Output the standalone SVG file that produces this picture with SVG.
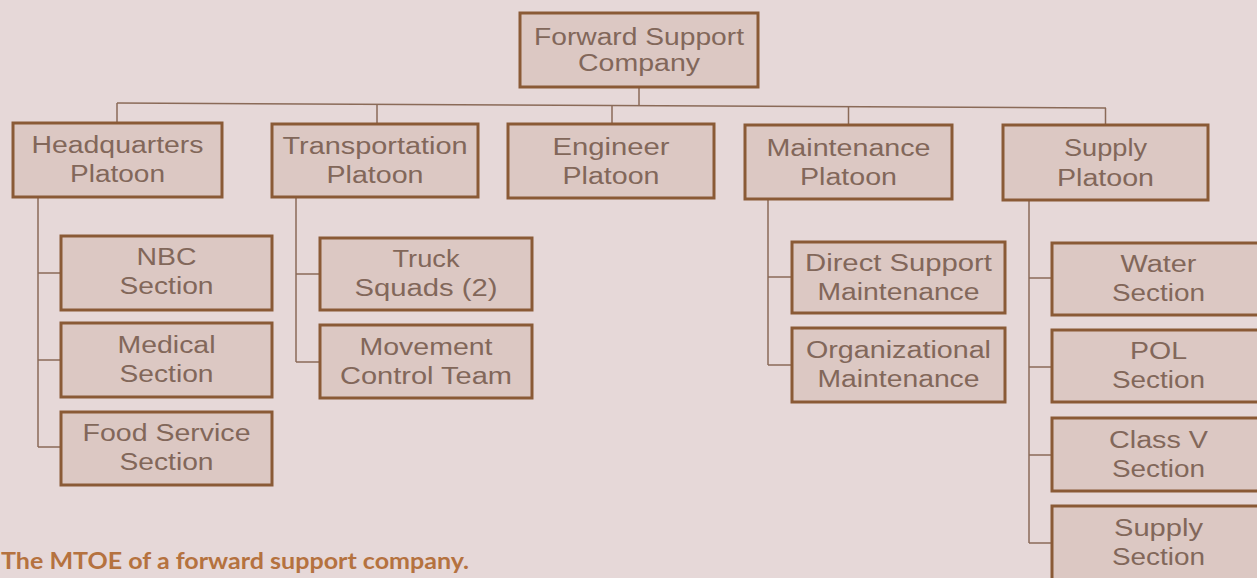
<svg xmlns="http://www.w3.org/2000/svg" width="1257" height="578" viewBox="0 0 1257 578">
<style>
.bx{fill:#dcc8c3;stroke:#8a5a36;stroke-width:3}
.t{font-family:"Liberation Sans",Arial,sans-serif;font-size:23px;fill:#82675a;text-anchor:middle}
.c{fill:none;stroke:#8a6a58;stroke-width:1.5}
.cap{font-family:Lato,"Open Sans",sans-serif;font-weight:bold;font-size:23.5px;fill:#b5723f}
</style>
<rect width="1257" height="578" fill="#e6d8d8"/>
<g id="connectors" class="c">
<path d="M639,87 V105.5"/>
<path d="M117,103 L1106,108"/>
<path d="M117,103 V123 M377,104.3 V124 M612,105.5 V124 M848.5,106.7 V125 M1105.5,108 V125"/>
<path d="M38,197 V447 M38,273 H61 M38,360 H61 M38,447 H61"/>
<path d="M296,197 V362 M296,274 H320 M296,362 H320"/>
<path d="M768,199 V365 M768,277 H792 M768,365 H792"/>
<path d="M1029,200 V543 M1029,278 H1052 M1029,367 H1052 M1029,455 H1052 M1029,543 H1052"/>
</g>
<g id="fsc"><rect class="bx" x="520" y="13" width="238" height="74"/><text class="t" x="639" y="45" textLength="210" lengthAdjust="spacingAndGlyphs">Forward Support</text><text class="t" x="639" y="71" textLength="122" lengthAdjust="spacingAndGlyphs">Company</text></g>
<g id="hq"><rect class="bx" x="13" y="123" width="209" height="74"/><text class="t" x="117.5" y="153" textLength="172" lengthAdjust="spacingAndGlyphs">Headquarters</text><text class="t" x="117.5" y="182" textLength="95" lengthAdjust="spacingAndGlyphs">Platoon</text></g>
<g id="trans"><rect class="bx" x="272" y="124" width="206" height="73"/><text class="t" x="375" y="154" textLength="185" lengthAdjust="spacingAndGlyphs">Transportation</text><text class="t" x="375" y="183" textLength="97" lengthAdjust="spacingAndGlyphs">Platoon</text></g>
<g id="eng"><rect class="bx" x="508" y="124" width="206" height="74"/><text class="t" x="611" y="155" textLength="117" lengthAdjust="spacingAndGlyphs">Engineer</text><text class="t" x="611" y="184" textLength="97" lengthAdjust="spacingAndGlyphs">Platoon</text></g>
<g id="maint"><rect class="bx" x="745" y="125" width="207" height="74"/><text class="t" x="848.5" y="156" textLength="164" lengthAdjust="spacingAndGlyphs">Maintenance</text><text class="t" x="848.5" y="185" textLength="97" lengthAdjust="spacingAndGlyphs">Platoon</text></g>
<g id="supply"><rect class="bx" x="1003" y="125" width="205" height="75"/><text class="t" x="1105.5" y="156" textLength="83" lengthAdjust="spacingAndGlyphs">Supply</text><text class="t" x="1105.5" y="186" textLength="97" lengthAdjust="spacingAndGlyphs">Platoon</text></g>
<g id="nbc"><rect class="bx" x="61" y="236" width="211" height="74"/><text class="t" x="166.5" y="265" textLength="60" lengthAdjust="spacingAndGlyphs">NBC</text><text class="t" x="166.5" y="294" textLength="94" lengthAdjust="spacingAndGlyphs">Section</text></g>
<g id="medical"><rect class="bx" x="61" y="323" width="211" height="74"/><text class="t" x="166.5" y="353" textLength="98" lengthAdjust="spacingAndGlyphs">Medical</text><text class="t" x="166.5" y="382" textLength="94" lengthAdjust="spacingAndGlyphs">Section</text></g>
<g id="food"><rect class="bx" x="61" y="412" width="211" height="73"/><text class="t" x="166.5" y="441" textLength="168" lengthAdjust="spacingAndGlyphs">Food Service</text><text class="t" x="166.5" y="470" textLength="94" lengthAdjust="spacingAndGlyphs">Section</text></g>
<g id="truck"><rect class="bx" x="320" y="238" width="212" height="72"/><text class="t" x="426" y="267" textLength="67" lengthAdjust="spacingAndGlyphs">Truck</text><text class="t" x="426" y="296" textLength="143" lengthAdjust="spacingAndGlyphs">Squads (2)</text></g>
<g id="movement"><rect class="bx" x="320" y="325" width="212" height="73"/><text class="t" x="426" y="355" textLength="133" lengthAdjust="spacingAndGlyphs">Movement</text><text class="t" x="426" y="384" textLength="172" lengthAdjust="spacingAndGlyphs">Control Team</text></g>
<g id="ds"><rect class="bx" x="792" y="242" width="213" height="71"/><text class="t" x="898.5" y="271" textLength="187" lengthAdjust="spacingAndGlyphs">Direct Support</text><text class="t" x="898.5" y="300" textLength="162" lengthAdjust="spacingAndGlyphs">Maintenance</text></g>
<g id="org"><rect class="bx" x="792" y="328" width="213" height="74"/><text class="t" x="898.5" y="358" textLength="185" lengthAdjust="spacingAndGlyphs">Organizational</text><text class="t" x="898.5" y="387" textLength="162" lengthAdjust="spacingAndGlyphs">Maintenance</text></g>
<g id="water"><rect class="bx" x="1052" y="243" width="214" height="72"/><text class="t" x="1158.5" y="272" textLength="76" lengthAdjust="spacingAndGlyphs">Water</text><text class="t" x="1158.5" y="301" textLength="93" lengthAdjust="spacingAndGlyphs">Section</text></g>
<g id="pol"><rect class="bx" x="1052" y="330" width="214" height="72"/><text class="t" x="1158.5" y="359" textLength="57" lengthAdjust="spacingAndGlyphs">POL</text><text class="t" x="1158.5" y="388" textLength="93" lengthAdjust="spacingAndGlyphs">Section</text></g>
<g id="classv"><rect class="bx" x="1052" y="418" width="214" height="73"/><text class="t" x="1158.5" y="448" textLength="99" lengthAdjust="spacingAndGlyphs">Class V</text><text class="t" x="1158.5" y="477" textLength="93" lengthAdjust="spacingAndGlyphs">Section</text></g>
<g id="supsec"><rect class="bx" x="1052" y="506" width="214" height="80"/><text class="t" x="1158.5" y="536" textLength="89" lengthAdjust="spacingAndGlyphs">Supply</text><text class="t" x="1158.5" y="565" textLength="93" lengthAdjust="spacingAndGlyphs">Section</text></g>
<text class="cap" x="1" y="569" textLength="468" lengthAdjust="spacingAndGlyphs">The MTOE of a forward support company.</text>
</svg>
